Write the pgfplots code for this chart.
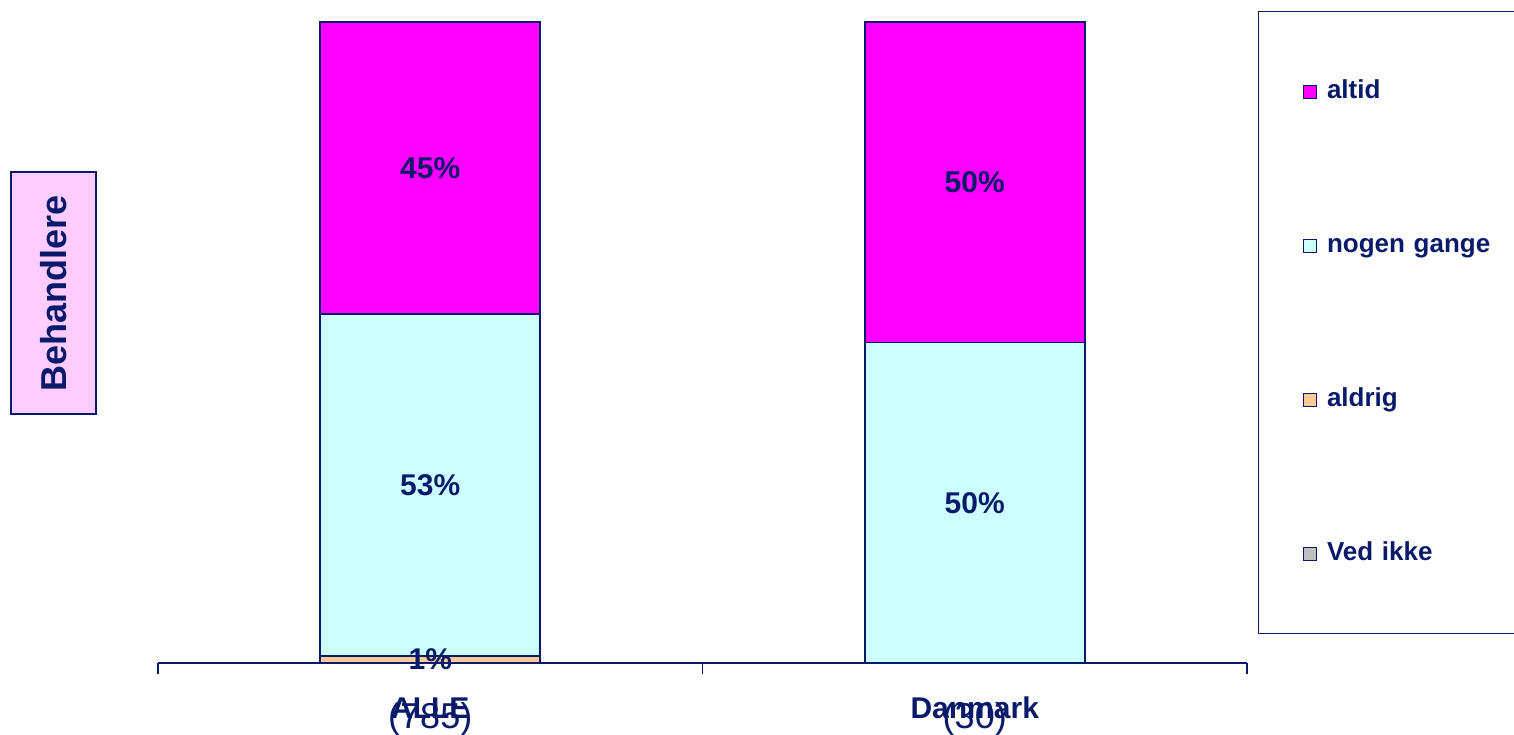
\documentclass[border=0pt]{standalone}
\usepackage{fontspec}
\setmainfont{Liberation Sans}
\usepackage{pgfplots}
\pgfplotsset{compat=1.18}
\definecolor{navy}{HTML}{0A1A6B}
\definecolor{altidc}{HTML}{FF00FF}
\definecolor{nogenc}{HTML}{CCFFFF}
\definecolor{aldrigc}{HTML}{FFCC99}
\definecolor{vedc}{HTML}{C0C0C0}
\definecolor{pinkbg}{HTML}{FFCCFF}

\begin{document}
\begin{tikzpicture}
\path[use as bounding box] (-79pt,-35.5pt) rectangle (678pt,331.5pt);
\begin{axis}[
  scale only axis,
  width=544.5pt, height=320.5pt,
  ybar stacked,
  bar width=110pt,
  xmin=-0.5, xmax=1.5, ymin=0, ymax=100,
  enlargelimits=false,
  clip=false,
  hide y axis,
  axis x line*=bottom,
  x axis line style={-, draw=navy, line width=0.8pt},
  xtick={0,1},
  minor xtick={-0.5,0.5,1.5},
  major tick length=0pt,
  minor tick length=5.5pt,
  tick align=outside,
  tick style={draw=navy, line width=0.8pt},
  xticklabels={
    {\makebox[0pt]{\fontsize{15}{18}\selectfont\bfseries ALLE}\makebox[0pt]{\raisebox{-5pt}{\fontsize{18}{21}\selectfont (785)}}},
    {\makebox[0pt]{\fontsize{15}{18}\selectfont\bfseries Danmark}\makebox[0pt]{\raisebox{-5pt}{\fontsize{18}{21}\selectfont (30)}}}
  },
  xticklabel style={anchor=base, yshift=-27.5pt, text=navy, inner sep=0pt},
  every axis plot/.append style={draw=navy, line width=0.8pt},
  point meta=explicit symbolic,
  nodes near coords style={anchor=center, font=\fontsize{15}{18}\selectfont\bfseries, text=navy},
  reverse legend,
  legend image code/.code={\path (0pt,0pt); \draw[#1, line width=0.6pt] (22pt,-3.25pt) rectangle (28.5pt,3.25pt);},
  legend cell align=left,
  legend style={
    at={(1.0101,1.01716)}, anchor=north west,
    draw=navy, line width=0.6pt, fill=white,
    inner xsep=0pt, inner ysep=33.85pt,
    row sep=64.7pt, column sep=5pt,
    font=\fontsize{13}{15}\selectfont\bfseries,
    text=navy,
    nodes={inner sep=0pt, text height=9.5pt, text depth=2.8pt, text width=94pt, align=left, text=navy},
  },
]
\addplot[fill=vedc] coordinates {(0,0) [] (1,0) []};
\addlegendentry{Ved ikke}
\addplot[fill=aldrigc, nodes near coords] coordinates {(0,1.1) [1\%] (1,0) []};
\addlegendentry{aldrig}
\addplot[fill=nogenc, nodes near coords] coordinates {(0,53.35) [53\%] (1,50) [50\%]};
\addlegendentry{nogen gange}
\addplot[fill=altidc, nodes near coords] coordinates {(0,45.55) [45\%] (1,50) [50\%]};
\addlegendentry{altid}

\node[rotate=90, draw=navy, fill=pinkbg, line width=0.8pt,
  minimum width=121pt, minimum height=42.5pt,
  font=\fontsize{18}{21}\selectfont\bfseries, text=navy]
  at (rel axis cs:-0.096,0.577) {Behandlere};
\end{axis}
\end{tikzpicture}
\end{document}
